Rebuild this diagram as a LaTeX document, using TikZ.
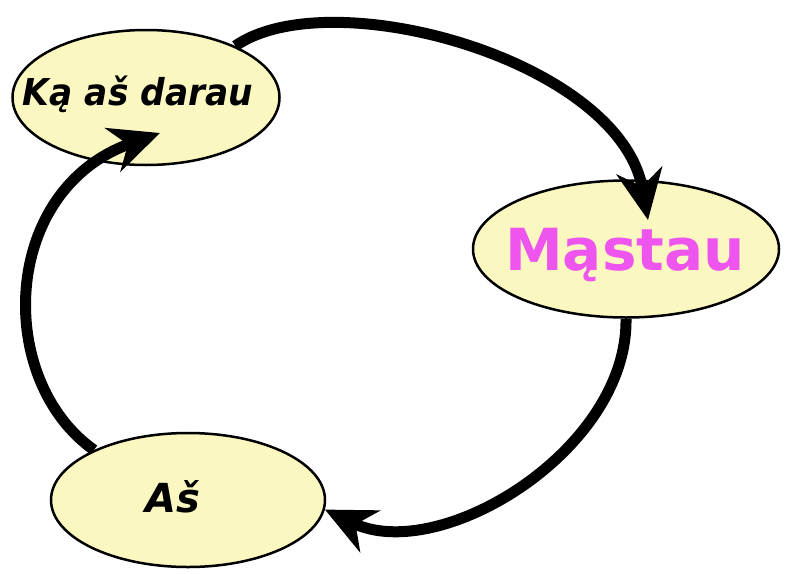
\documentclass[tikz,border=0pt]{standalone}
\usepackage{fontspec}
\usepackage{tikz}
\usetikzlibrary{calc,arrows.meta,shapes.geometric}
\newfontfamily\dejavu{DejaVu Sans}
\newfontfamily\dejavunarrow[FakeStretch=0.93]{DejaVu Sans}
\definecolor{bubble}{RGB}{250,248,192}
\definecolor{pinkish}{RGB}{238,85,238}
\tikzset{
	bubble/.style={ellipse, draw=black, line width=2.5pt, fill=bubble, inner sep=0pt},
	word/.style={anchor=base, inner sep=0pt},
	loop/.style={line width=11pt, -{Stealth[length=50pt, width=46pt, inset=16pt]}}
}

\begin{document}
\begin{tikzpicture}[x=1pt, y=-1pt]
		%%%%% START %%%%%
		\useasboundingbox (0, 0) rectangle (787, 573);
		
		\node[bubble, minimum width=267pt, minimum height=135pt] (kad) at (146, 97.5) {};
		\node[word, font=\dejavunarrow\bfseries\itshape\fontsize{37}{37}\selectfont] (kadt) at (138, 105) {Ką aš darau};
		
		\node[bubble, minimum width=306pt, minimum height=137pt] (mast) at (626, 249) {};
		\node[word, font=\dejavu\bfseries\fontsize{58}{58}\selectfont, text=pinkish] (mastt) at (625, 270) {Mąstau};
		
		\node[bubble, minimum width=274pt, minimum height=134pt] (as) at (188, 500) {};
		\node[word, font=\dejavu\bfseries\itshape\fontsize{40}{40}\selectfont] (ast) at (173, 512) {Aš};
		
		\coordinate (mtip) at (648, 220);
		\coordinate (ktip) at (160, 133);
		
		\draw[loop] (kad.30) .. controls (330, -20) and (620, 60) .. (mtip);
		\draw[loop] (mast.south) .. controls (628, 450) and (440, 565) .. (as.-4);
		\draw[loop] (as.152) .. controls (-5, 380) and (0, 190) .. (ktip);
		
		%%%%% END %%%%%
	\end{tikzpicture}
\end{document}
